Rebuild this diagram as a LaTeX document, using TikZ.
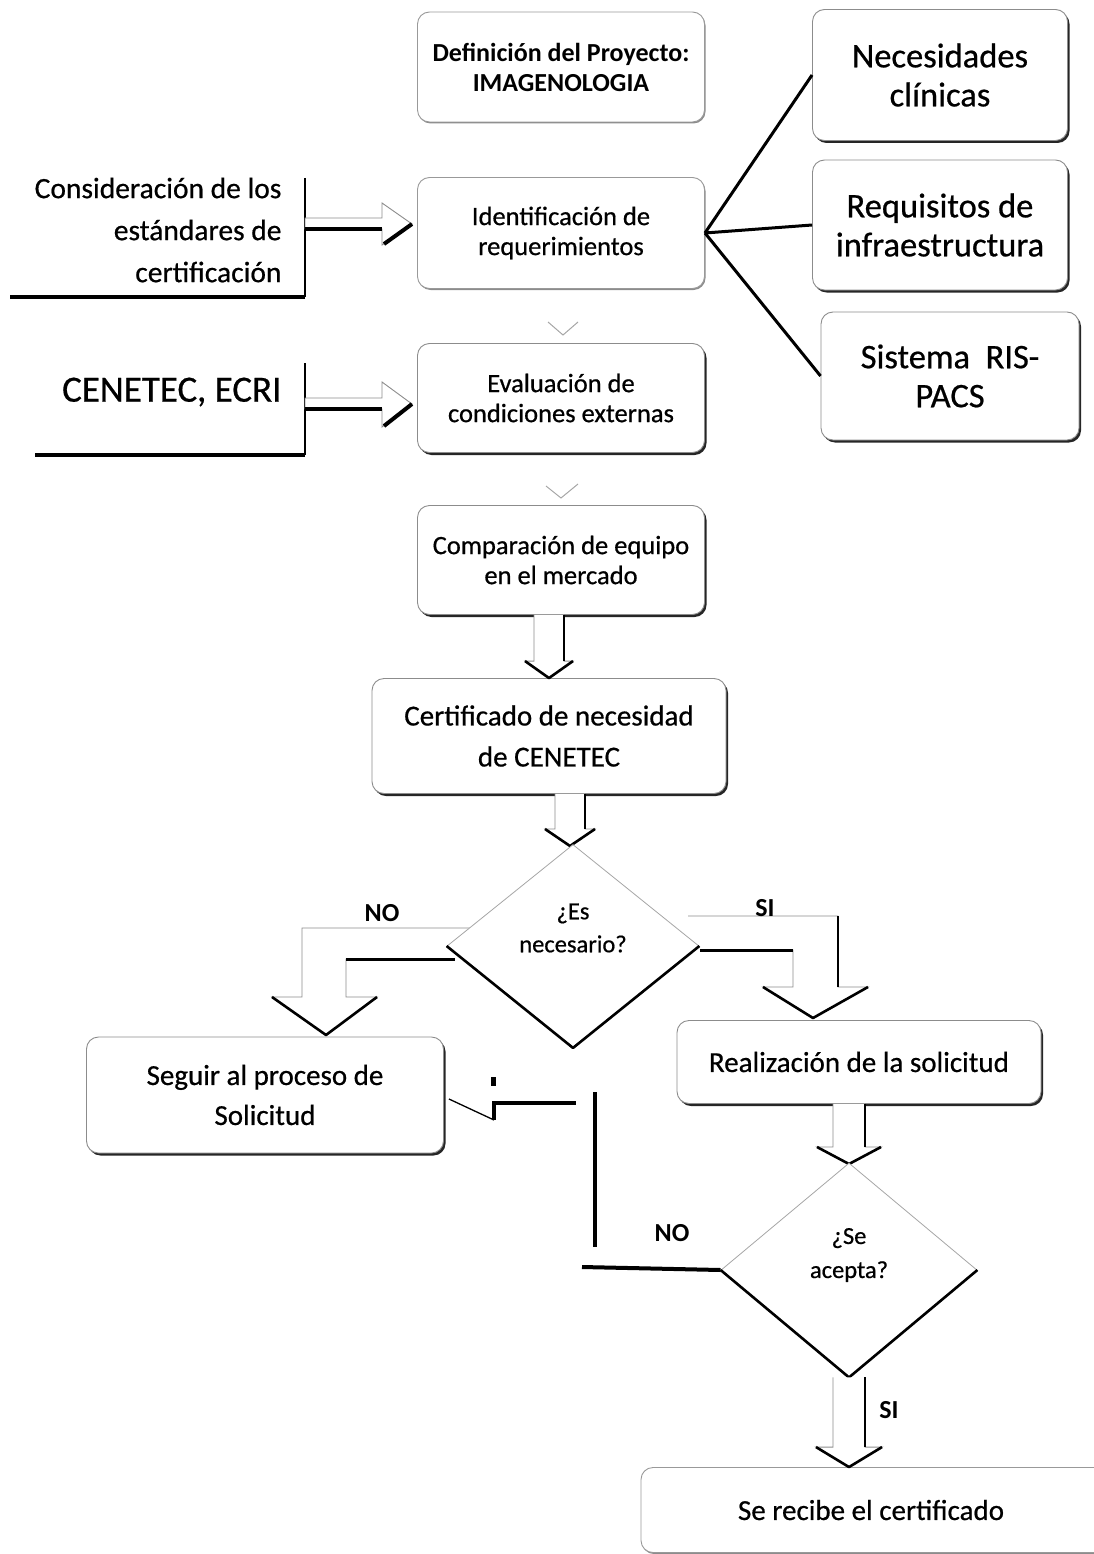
\documentclass[tikz,border=0pt]{standalone}
\usepackage{fontspec}
\setmainfont{Carlito}[UprightFeatures={FakeBold=0.6}]
\usetikzlibrary{shapes.geometric,shadows,calc}
\tikzset{
  box/.style={rounded corners=12pt, draw=black!45, line width=0.9pt, fill=white,
    align=center, inner sep=3pt,
    drop shadow={shadow xshift=2pt, shadow yshift=-2.5pt, fill=black!85, opacity=1}},
  lightbox/.style={rounded corners=12pt, draw=black!40, line width=0.9pt, fill=white,
    align=center, inner sep=3pt,
    drop shadow={shadow xshift=1pt, shadow yshift=-1.5pt, fill=black!45, opacity=1}},
  faint/.style={draw=black!45, line width=0.9pt},
  dark/.style={draw=black, line width=3pt},
  headline/.style={draw=black, line width=2.6pt, line join=round},
  dec/.style={shape=diamond, draw=black!35, line width=0.8pt, fill=white,
    inner sep=0pt, align=center},
  dectext/.style={align=center, inner sep=0pt},
  lab/.style={font=\fontsize{26}{28}\selectfont\bfseries},
}
\newcommand\vblk[5]{%
  \draw[faint, fill=white] let \p1=#1, \p2=#2 in
    (\x2-#3,\y1) -- (\x2-#3,\y2+#5) -- (\x2-#4,\y2+#5) -- (\x2,\y2)
    -- (\x2+#4,\y2+#5) -- (\x2+#3,\y2+#5) -- (\x2+#3,\y1);
  \draw[black, line width=1.6pt] let \p1=#1, \p2=#2 in
    (\x2+#3,\y1) -- (\x2+#3,\y2+#5);
  \draw[headline] let \p1=#1, \p2=#2 in
    (\x2-#4,\y2+#5) -- (\x2,\y2) -- (\x2+#4,\y2+#5);
}
\begin{document}
\begin{tikzpicture}[x=1pt,y=-1pt]
\useasboundingbox (0,0) rectangle (1093,1554);
\clip (-20,-20) rectangle (1120,1575);

% ---- boxes ----
\node[lightbox, minimum width=287pt, minimum height=110pt,
  font=\fontsize{26}{30}\selectfont\bfseries] (def) at (561,67)
  {Definición del Proyecto:\\IMAGENOLOGIA};
\node[box, minimum width=255pt, minimum height=131pt,
  font=\fontsize{34.5}{39}\selectfont] (nec) at (940,75) {Necesidades\\clínicas};
\node[box, minimum width=255pt, minimum height=130pt,
  font=\fontsize{34.5}{39}\selectfont] (req) at (940,225) {Requisitos de\\infraestructura};
\node[box, minimum width=258pt, minimum height=128pt,
  font=\fontsize{34.5}{39}\selectfont] (ris) at (950,376) {Sistema\ \ RIS-\\PACS};
\node[lightbox, minimum width=287pt, minimum height=111pt,
  font=\fontsize{26.5}{30}\selectfont] (ident) at (561,233) {Identificación de\\requerimientos};
\node[box, minimum width=287pt, minimum height=109pt,
  font=\fontsize{26.5}{30}\selectfont] (eval) at (561,398) {Evaluación de\\condiciones externas};
\node[box, minimum width=287pt, minimum height=109pt,
  font=\fontsize{26.5}{30}\selectfont] (comp) at (561,560) {Comparación de equipo\\en el mercado};
\node[box, minimum width=354pt, minimum height=115pt,
  font=\fontsize{29}{41}\selectfont] (cert) at (549,736) {Certificado de necesidad\\de CENETEC};
\node[box, minimum width=357pt, minimum height=116pt,
  font=\fontsize{29}{40}\selectfont] (seg) at (265,1095) {Seguir al proceso de\\Solicitud};
\node[box, minimum width=364pt, minimum height=83pt,
  font=\fontsize{29}{30}\selectfont] (real) at (859,1062) {Realización de la solicitud};
\node[lightbox, minimum width=520pt, minimum height=85pt,
  font=\fontsize{29}{30}\selectfont] (rec) at (901,1510) {\hspace*{-60pt}Se recibe el certificado};

% ---- left texts ----
\node[anchor=east, align=right, font=\fontsize{29.5}{42}\selectfont] (cons) at (285,230)
  {Consideración de los\\estándares de\\certificación};
\node[anchor=east, font=\fontsize{37}{40}\selectfont] (cen) at (285,392) {CENETEC, ECRI};

% brackets
\coordinate (b1t) at (305,178);
\coordinate (b1c) at (305,297);
\coordinate (b1e) at (10,297);
\draw[black, line width=2.2pt] (b1t) -- (b1c);
\draw[black, line width=4pt] (b1c) -- (b1e);
\coordinate (b2t) at (305,363);
\coordinate (b2c) at (305,455);
\coordinate (b2e) at (35,455);
\draw[black, line width=2.2pt] (b2t) -- (b2c);
\draw[black, line width=4pt] (b2c) -- (b2e);

% left block arrows
\draw[faint, fill=white] (305,218) -- (382,218) -- (382,203) -- (412,224)
  -- (382,245) -- (382,229) -- (305,229) -- cycle;
\draw[black, line width=4.5pt] (305,229) -- (382,229);
\draw[black, line width=4pt] (384,244) -- (412,224);
\draw[faint, fill=white] (305,398) -- (382,398) -- (382,382) -- (412,404)
  -- (382,427) -- (382,409) -- (305,409) -- cycle;
\draw[black, line width=4.5pt] (305,409) -- (382,409);
\draw[black, line width=4pt] (384,426) -- (412,404);

% lines to the three requirement boxes
\draw[dark] (ident.east) -- (nec.west);
\draw[dark] (ident.east) -- (req.west);
\draw[dark] (ident.east) -- (ris.west);

% faint chevrons
\draw[draw=black!35, line width=1pt] (548,322) -- (563,335) -- (578,322);
\draw[draw=black!35, line width=1pt] (546,486) -- (561,498) -- (578,484);

% vertical block arrows
\vblk{(comp.south)}{(cert.north)}{15pt}{24pt}{17pt}
\vblk{(cert.south)}{(570,846)}{15pt}{25pt}{17pt}

% bent arrows from first decision
\draw[faint, fill=white] (475,928) -- (302,928) -- (302,997) -- (272,997) -- (326,1035)
  -- (377,997) -- (346,997) -- (346,959) -- (455,959);
\draw[dark] (346,959) -- (455,959);
\draw[headline] (272,997) -- (326,1035) -- (377,997);

\draw[faint, fill=white] (688,916) -- (838,916) -- (838,987) -- (868,987) -- (813,1018)
  -- (763,987) -- (793,987) -- (793,950) -- (700,950);
\draw[dark] (700,950) -- (793,950);
\draw[black, line width=1.6pt] (838,916) -- (838,987);
\draw[headline] (763,987) -- (813,1018) -- (868,987);

% decisions
\node[dec, minimum width=252pt, minimum height=203pt] (d1) at (573,946) {};
\draw[black, line width=2.6pt, line join=round] (d1.west) -- (d1.south) -- (d1.east);
\node[dectext, font=\fontsize{24.5}{33}\selectfont] (d1t) at ($(d1.center)+(0,-18)$) {¿Es\\necesario?};

\vblk{(real.south)}{(849,1164)}{16pt}{32pt}{17pt}

\node[dec, minimum width=256pt, minimum height=214pt] (d2) at (849,1270) {};
\draw[black, line width=2.6pt, line join=round] (d2.west) -- (d2.south) -- (d2.east);
\node[dectext, font=\fontsize{24.5}{34}\selectfont] (d2t) at ($(d2.center)+(0,-15)$) {¿Se\\acepta?};

\vblk{(d2.south)}{(d2.south |- rec.north)}{16pt}{33pt}{20pt}

% NO path of second decision
\coordinate (n2a) at (582,1267);
\draw[black, line width=4pt] (d2.west) -- (n2a);
\coordinate (v2t) at (595,1092);
\coordinate (v2b) at (595,1247);
\draw[black, line width=3.5pt] (v2t) -- (v2b);
\coordinate (z1) at (494,1120);
\coordinate (z2) at (494,1103);
\coordinate (z3) at (576,1103);
\draw[black, line width=1.3pt] ($(seg.east)+(5,4)$) -- (z1);
\draw[black, line width=3.5pt] (z1) -- (z2) -- (z3);
\fill[black] (491,1077) rectangle (496,1086);

% labels
\node[lab] (no1) at (382,913) {NO};
\node[lab] (si1) at (765,908) {SI};
\node[lab] (no2) at (672,1233) {NO};
\node[lab] (si2) at (889,1410) {SI};
\end{tikzpicture}
\end{document}
